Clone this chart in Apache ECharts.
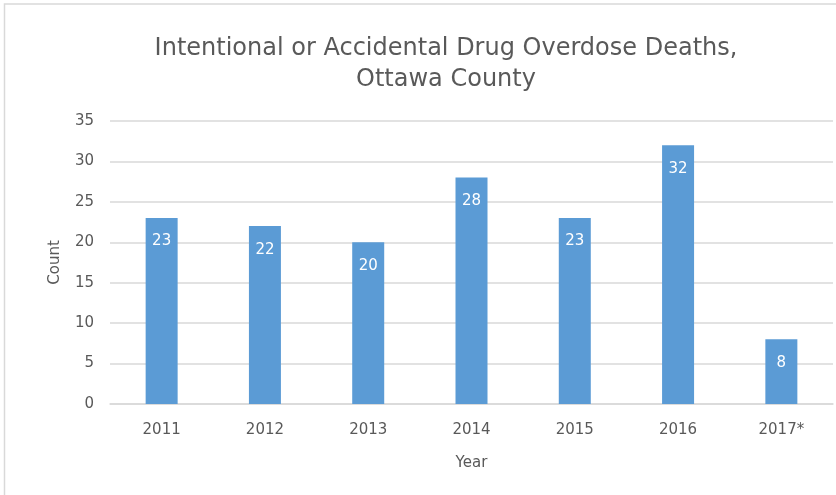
<!DOCTYPE html>
<html><head><meta charset="utf-8">
<script src="https://cdn.jsdelivr.net/npm/echarts@6/dist/echarts.min.js"></script>
<style>html,body{margin:0;padding:0;background:#fff}#c{width:836px;height:495px}</style>
</head><body><div id="c"></div>
<script>
var categories = ['2011','2012','2013','2014','2015','2016','2017*'];
var counts = [23, 22, 20, 28, 23, 32, 8];
var yTicks = [0, 5, 10, 15, 20, 25, 30, 35];

var chart = echarts.init(document.getElementById('c'));
var font = 'DejaVu Sans';
chart.setOption({
  animation: false,
  backgroundColor: '#fff',
  graphic: [{
    type: 'rect', shape: {x: 4.5, y: 4, width: 900, height: 600},
    style: {fill: 'none', stroke: '#d9d9d9', lineWidth: 1.5}, silent: true
  }],
  title: {
    text: 'Intentional or Accidental Drug Overdose Deaths,\nOttawa County',
    left: 441, top: 28, textAlign: 'center',
    textStyle: {fontFamily: font, fontSize: 24, fontWeight: 'normal', color: '#595959', lineHeight: 31}
  },
  grid: {left: 110, right: 3, top: 121, bottom: 91, containLabel: false},
  xAxis: {
    type: 'category', data: categories,
    name: 'Year', nameLocation: 'middle', nameGap: 52,
    nameTextStyle: {fontFamily: font, fontSize: 15, color: '#595959'},
    axisLine: {show: true, lineStyle: {color: '#d9d9d9', width: 1.5}},
    axisTick: {show: false},
    axisLabel: {fontFamily: font, fontSize: 15, color: '#595959', margin: 19}
  },
  yAxis: {
    type: 'value', min: yTicks[0], max: yTicks[yTicks.length - 1], interval: 5,
    name: 'Count', nameLocation: 'middle', nameGap: 47, nameRotate: 90,
    nameTextStyle: {fontFamily: font, fontSize: 15, color: '#595959'},
    axisLine: {show: false}, axisTick: {show: false},
    axisLabel: {fontFamily: font, fontSize: 15, color: '#595959', margin: 16},
    splitLine: {lineStyle: {color: '#d9d9d9', width: 1.5}}
  },
  series: [{
    type: 'bar', data: counts, barWidth: 32,
    itemStyle: {color: '#5b9bd5'},
    label: {show: true, position: 'insideTop', distance: 16,
      fontFamily: font, fontSize: 15, color: '#fff'}
  }]
});
</script></body></html>
